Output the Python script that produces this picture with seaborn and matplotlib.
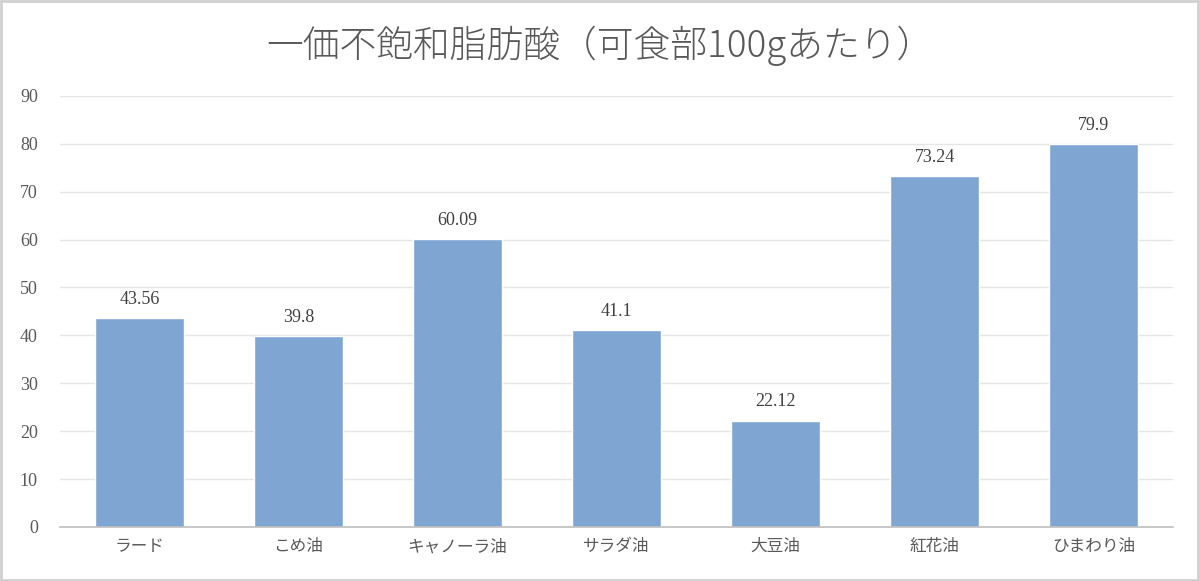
import matplotlib
matplotlib.use("Agg")
import matplotlib.pyplot as plt
import seaborn as sns
import pandas as pd

categories = ["ラード", "こめ油", "キャノーラ油", "サラダ油", "大豆油", "紅花油", "ひまわり油"]
values = [43.56, 39.8, 60.09, 41.1, 22.12, 73.24, 79.9]
labels = ["43.56", "39.8", "60.09", "41.1", "22.12", "73.24", "79.9"]
yticks = [0, 10, 20, 30, 40, 50, 60, 70, 80, 90]

sns.set_theme(style="white")
plt.rcParams['font.family'] = ['Noto Sans CJK JP', 'DejaVu Sans']

df = pd.DataFrame({"cat": categories, "val": values})

fig = plt.figure(figsize=(12, 5.81), dpi=100)
ax = fig.add_axes([0.05, 0.093, 0.9275, 0.742])
sns.barplot(data=df, x="cat", y="val", color="#7FA6D2", saturation=1, width=0.555, ax=ax)

ax.set_ylim(0, 90)
ax.set_yticks(yticks)
ax.set_xlim(-0.5, len(categories) - 0.5)
ax.yaxis.grid(True, color="#E6E6E6", linewidth=1)
ax.set_axisbelow(True)
for s in ["top", "right", "left"]:
    ax.spines[s].set_visible(False)
ax.spines["bottom"].set_color("#BFBFBF")
ax.spines["bottom"].set_linewidth(1.2)
ax.set_xlabel("")
ax.set_ylabel("")
ax.tick_params(axis="both", length=0, colors="#595959")
ax.tick_params(axis="x", labelsize=12, pad=8)
ax.tick_params(axis="y", pad=16)
for t in ax.get_yticklabels():
    t.set_family(["Liberation Serif", "DejaVu Serif"])
    t.set_fontsize(13)

for p, lab in zip(ax.patches, labels):
    ax.text(p.get_x() + p.get_width() / 2, p.get_height() + 2.2, lab,
            ha="center", va="bottom", fontsize=13, color="#404040",
            family=["Liberation Serif", "DejaVu Serif"])

fig.text(0.5, 0.922, "一価不飽和脂肪酸（可食部100gあたり）", ha="center", va="center",
         fontsize=26.5, color="#595959", fontweight="light")

border = plt.Rectangle((0.001, 0.002), 0.997, 0.996, transform=fig.transFigure,
                       fill=False, edgecolor="#D0D0D0", linewidth=2)
fig.patches.append(border)

fig.savefig("out.png", dpi=100)
